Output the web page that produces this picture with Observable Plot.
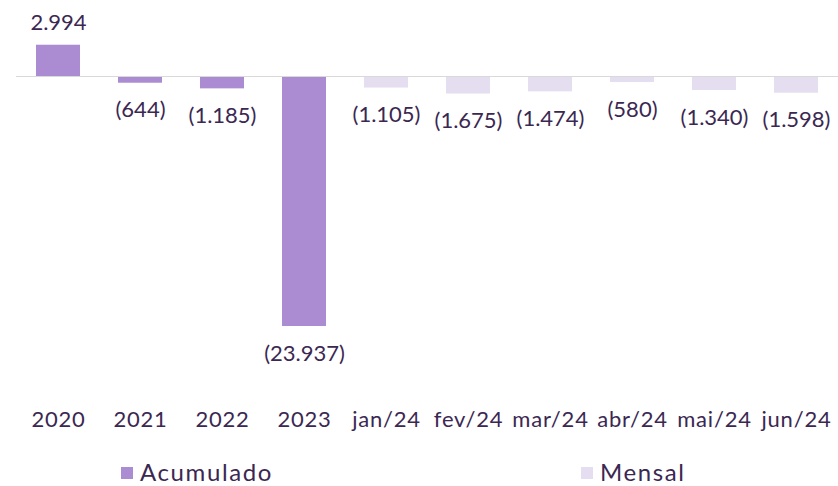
<!DOCTYPE html>
<html>
<head>
<meta charset="utf-8">
<script src="https://cdn.jsdelivr.net/npm/d3@7"></script>
<script src="https://cdn.jsdelivr.net/npm/@observablehq/plot@0.6"></script>
<style>
  body { margin: 0; background: #fff; }
  #wrap { position: relative; width: 838px; height: 486px; font-family: Lato, "Liberation Sans", sans-serif; color: #3b2852; }
  .leg { position: absolute; display: flex; align-items: center; font-size: 24px; line-height: 29px; height: 29px; letter-spacing: 1.6px; white-space: nowrap; }
  .sw { width: 12px; height: 12px; margin-right: 7px; margin-top: 2px; }
  g[aria-label="x-axis tick label"] text { letter-spacing: 0.8px; }
</style>
</head>
<body>
<div id="wrap"></div>
<script>
const categories = ["2020", "2021", "2022", "2023", "jan/24", "fev/24", "mar/24", "abr/24", "mai/24", "jun/24"];
const values = [2994, -644, -1185, -23937, -1105, -1675, -1474, -580, -1340, -1598];
const series = ["Acumulado", "Acumulado", "Acumulado", "Acumulado", "Mensal", "Mensal", "Mensal", "Mensal", "Mensal", "Mensal"];
const seriesNames = ["Acumulado", "Mensal"];
const seriesColors = ["#ab8bd1", "#e5ddf0"];

const data = categories.map((c, i) => ({ cat: c, value: values[i], series: series[i] }));

const loc = d3.formatLocale({ decimal: ",", thousands: ".", grouping: [3], currency: ["", ""] });
const fmtN = loc.format(",");
const fmt = v => v < 0 ? "(" + fmtN(-v) + ")" : fmtN(v);

const textColor = "#3b2852";

const plot = Plot.plot({
  width: 838,
  height: 445,
  marginLeft: 16,
  marginRight: 0,
  marginTop: 10,
  marginBottom: 55,
  style: { fontFamily: "Lato, 'Liberation Sans', sans-serif", fontSize: "22px", color: textColor, background: "#fff" },
  x: { domain: categories, paddingInner: 0.465, paddingOuter: 0.2325, label: null },
  y: { domain: [-30065, 6319], axis: null },
  color: { domain: seriesNames, range: seriesColors },
  marks: [
    Plot.barY(data, { x: "cat", y: "value", fill: "series" }),
    Plot.ruleY([0], { stroke: "#d9d9d9", strokeWidth: 1.2 }),
    Plot.text(data.filter(d => d.value >= 0), { x: "cat", y: "value", text: d => fmt(d.value), dy: -22, lineAnchor: "middle", fill: textColor, fontSize: 22 }),
    Plot.text(data.filter(d => d.value < 0), { x: "cat", y: "value", text: d => fmt(d.value), dy: 27, lineAnchor: "middle", fill: textColor, fontSize: 22 }),
    Plot.axisX({ tickSize: 0, tickPadding: 21, fontSize: 22, fill: textColor, label: null })
  ]
});

const wrap = document.getElementById("wrap");
wrap.appendChild(plot);

const legendPos = [{ x: 121, y: 457 }, { x: 581, y: 457 }];
seriesNames.forEach((name, i) => {
  const item = document.createElement("div");
  item.className = "leg";
  item.style.left = legendPos[i].x + "px";
  item.style.top = legendPos[i].y + "px";
  const sw = document.createElement("div");
  sw.className = "sw";
  sw.style.background = seriesColors[i];
  const t = document.createElement("span");
  t.textContent = name;
  item.appendChild(sw);
  item.appendChild(t);
  wrap.appendChild(item);
});
</script>
</body>
</html>
